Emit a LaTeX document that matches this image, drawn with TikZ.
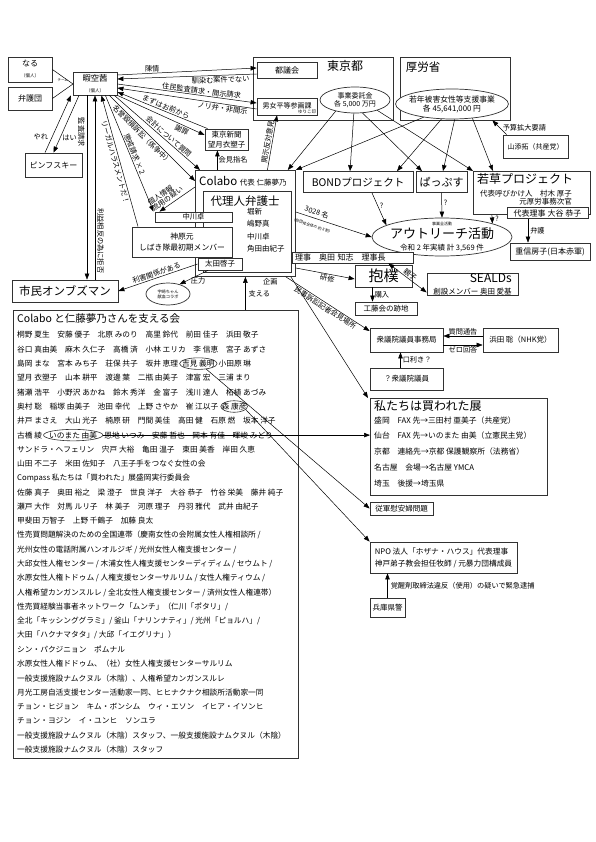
\documentclass[tikz,border=0pt]{standalone}
\usepackage{fontspec}
\setmainfont{Noto Sans CJK JP}
\usepackage{xcolor}
\usepackage{tikz}
\usetikzlibrary{arrows.meta, positioning, shapes.geometric}
\definecolor{FrameGray}{RGB}{50, 50, 50}
\newcommand{\fsz}[2]{\fontsize{#1}{#2}\selectfont}

\begin{document}
\begin{tikzpicture}[x=1pt, y=-1pt,
    box/.style={draw=FrameGray, line width=0.8pt, fill=white, inner sep=1pt, align=center},
    oval/.style={draw=FrameGray, line width=0.7pt, ellipse, fill=white, inner sep=0pt, align=center},
    namering/.style={draw=FrameGray, line width=0.6pt, ellipse, inner xsep=-3pt, inner ysep=0.5pt, font=\fsz{7.7}{9}},
    namerow/.style={anchor=west, inner sep=0pt, font=\fsz{7.7}{9}},
    arr/.style={-{Triangle[length=6pt, width=4.5pt]}, line width=0.5pt},
    rarr/.style={{Triangle[length=6pt, width=4.5pt]}-, line width=0.5pt},
    dblarr/.style={{Triangle[length=6pt, width=4.5pt]}-{Triangle[length=6pt, width=4.5pt]}, line width=0.5pt},
    lbl/.style={font=\fsz{7.2}{8}, inner sep=1pt}]
  \fill[white] (0,0) rectangle (595,842);
  \useasboundingbox (0,0) rectangle (595,842);

  % --- left top: persons
  \node[box, minimum width=44, minimum height=25] (naru) at (30,69.5) {\fsz{8}{8}なる\\[-1pt]\fsz{4.5}{5}（個人）};
  \node[box, minimum width=44, minimum height=23] (bengodan) at (30,98.5) {\fsz{8}{9}弁護団};
  \node[box, minimum width=44, minimum height=23] (himasora) at (95,83.5) {\fsz{8.3}{8.5}暇空茜\\[-1pt]\fsz{4.5}{5}（個人）};
  \node[box, minimum width=57, minimum height=24] (pinf) at (53.5,165) {\fsz{8}{9}ピンフスキー};
  \node[box, minimum width=106, minimum height=22, font=\fsz{11.5}{12}] (ombuds) at (65,291) {市民オンブズマン};

  % --- Tokyo / MHLW
  \node[box, minimum width=140, minimum height=63] (tokyo) at (323,88.5) {};
  \node[inner sep=0pt, font=\fsz{12}{13}] at (345,66) {東京都};
  \node[box, minimum width=60, minimum height=16, font=\fsz{8}{9}] (togikai) at (287,70) {都議会};
  \node[box, minimum width=60, minimum height=17, font=\fsz{7}{8}] (danjo) at (287,106.5) {\raisebox{2pt}{男女平等参画課}};
  \node[anchor=south east, inner sep=1pt, font=\fsz{4.5}{5}] at (danjo.south east) {ゆりこ印};
  \node[oval, minimum width=70, minimum height=26, font=\fsz{7}{8.5}] (tokyoell) at (355,100) {事業委託金\\各 5,000 万円};
  \node[box, minimum width=110, minimum height=63] (kourou) at (455,88.5) {};
  \node[inner sep=0pt, font=\fsz{11.5}{12}] at (423,67) {厚労省};
  \node[oval, minimum width=100, minimum height=30, inner xsep=-3pt, font=\fsz{7.8}{9}] (kourouell) at (452,104) {若年被害女性等支援事業\\各 45,641,000 円};
  \node[box, minimum width=65, minimum height=23, font=\fsz{7}{8}] (yamazoe) at (535.5,146.5) {山添拓（共産党）};
  \node[box, minimum width=43, minimum height=21, font=\fsz{7.5}{10}] (shinbun) at (226.5,139.5) {東京新聞\\望月衣塑子};

  % --- projects
  \node[box, minimum width=110, minimum height=21, font=\fsz{10.5}{11}] (bond) at (358,182) {BONDプロジェクト};
  \node[box, minimum width=51, minimum height=21, font=\fsz{11}{12}] (pappusu) at (441.5,182) {ぱっぷす};
  \node[box, minimum width=117, minimum height=43, anchor=north west] (wakakusa) at (473,171) {};
  \node[anchor=north west, inner sep=0pt, font=\fsz{12}{13}] at (477,173) {若草プロジェクト};
  \node[anchor=north west, inner sep=0pt, align=right, font=\fsz{7.5}{8.5}] at (480,189.5) {代表呼びかけ人　村木 厚子\\元厚労事務次官};
  \node[box, minimum width=81, minimum height=11, inner sep=0.5pt, font=\fsz{8}{8}] (ootani) at (547.5,213) {代表理事 大谷 恭子};
  \node[box, minimum width=80, minimum height=17, font=\fsz{8}{8}] (shigenobu) at (550,251.5) {重信房子(日本赤軍)};
  \node[oval, minimum width=140, minimum height=38, inner xsep=-14pt, inner ysep=-3pt] (outreach) at (442,237)
    {\fsz{4}{4.5}事業全活動\\[0.5pt]\fsz{13}{13}アウトリーチ活動\\\fsz{7.5}{9}令和 2 年実績 計 3,569 件};

  % --- Colabo
  \node[box, minimum width=100, minimum height=106, anchor=north west] (colabo) at (195,170) {};
  \node[anchor=west, inner sep=0pt] at (199,181) {\fsz{11.5}{12}Colabo \fsz{7.5}{8}代表 仁藤夢乃};
  \node[box, minimum width=88, minimum height=81, anchor=north west] (dairinin) at (203,191) {};
  \node[inner sep=0pt, font=\fsz{11.5}{12}] at (245,201) {代理人弁護士};
  \node[anchor=north west, inner sep=0pt, align=left, font=\fsz{7.5}{12.3}] at (247,208) {堀新\\嶋野真\\中川卓\\角田由紀子};
  \node[box, minimum width=77, minimum height=10, inner sep=0pt, font=\fsz{7.3}{8}] (nakagawa) at (193.5,217) {中川卓};
  \node[box, minimum width=100, minimum height=30, font=\fsz{7.8}{10.5}] (kanbara) at (182,242) {神原元\\しばき隊最初期メンバー};
  \node[box, minimum width=44, minimum height=12, inner sep=0pt, font=\fsz{7.5}{8}] (oota) at (220,264) {太田啓子};
  \node[oval, minimum width=44, minimum height=22, font=\fsz{4.2}{5}] (uzaki) at (168,294) {宇崎ちゃん\\献血コラボ};

  % --- right middle
  \node[box, text width=115, minimum height=11, inner ysep=0pt, inner xsep=3pt, align=left, font=\fsz{8}{8}] (riji) at (352.5,257.5) {理事　奥田 知志　理事長};
  \node[box, minimum width=57, minimum height=22, inner sep=0pt, font=\fsz{15}{15}] (houboku) at (383.5,276) {抱樸};
  \node[box, minimum width=62, minimum height=13, inner sep=0pt, font=\fsz{7.5}{8}] (kudo) at (386,308.5) {工藤会の跡地};
  \node[box, minimum width=91, minimum height=22, align=right, inner sep=0pt] (sealds) at (472.5,284) {\fsz{12}{12}SEALDs\\\fsz{7.5}{9}創設メンバー 奥田 愛基};
  \node[box, minimum width=73, minimum height=24, font=\fsz{7.5}{8}] (jimukyoku) at (406.5,340) {衆議院議員事務局};
  \node[box, minimum width=75, minimum height=24, font=\fsz{7.5}{8}] (hamada) at (520.5,340) {浜田 聡（NHK党）};
  \node[box, minimum width=73, minimum height=22, font=\fsz{7.5}{8}] (giin) at (406.5,379) {？衆議院議員};
  \node[box, minimum width=177, minimum height=97, anchor=north west] (kawareta) at (370,398) {};
  \node[anchor=north west, inner sep=0pt, align=left, font=\fsz{7.8}{15.7}] at (374,400)
    {{\fsz{12}{13}私たちは買われた展}\\[-2.7pt]
     盛岡　FAX 先→三田村 亜美子（共産党）\\
     仙台　FAX 先→いのまた 由美（立憲民主党）\\
     京都　連絡先→京都 保護観察所（法務省）\\
     名古屋　会場→名古屋 YMCA\\
     埼玉　後援→埼玉県};
  \node[box, minimum width=63, minimum height=13, inner sep=0pt, font=\fsz{7.5}{8}] (ianfu) at (401.5,508.5) {従軍慰安婦問題};
  \node[box, minimum width=147, minimum height=31, align=left, font=\fsz{7.7}{12}] (npo) at (443.5,557.5) {NPO 法人「ホザナ・ハウス」代表理事\\神戸弟子教会担任牧師 / 元暴力団構成員};
  \node[box, minimum width=35, minimum height=19, inner sep=0pt, font=\fsz{7.5}{8}] (hyogo) at (387.5,607.5) {兵庫県警};

  % --- supporters list
  \node[box, minimum width=285, minimum height=448, anchor=north west] (support) at (13,310) {};
  \node[anchor=west, inner sep=0pt, font=\fsz{10.5}{11}] at (17,319) {Colabo と仁藤夢乃さんを支える会};
  \foreach \r/\names in {
      1/{桐野 夏生　安藤 優子　北原 みのり　高里 鈴代　前田 佳子　浜田 敬子},
      2/{谷口 真由美　麻木 久仁子　高橋 済　小林 エリカ　李 信恵　宮子 あずさ},
      4/{望月 衣塑子　山本 耕平　渡邊 葉　二瓶 由美子　津富 宏　三浦 まり},
      5/{猪瀬 浩平　小野沢 あかね　鈴木 秀洋　金 富子　浅川 達人　柘植 あづみ},
      7/{井戸 まさえ　大山 光子　楠原 研　門間 美佳　高田 健　石原 燃　坂本 洋子},
      9/{サンドラ・ヘフェリン　宍戸 大裕　亀田 温子　東田 美香　岸田 久恵},
      10/{山田 不二子　米田 佐知子　八王子手をつなぐ女性の会},
      11/{Compass 私たちは「買われた」展盛岡実行委員会},
      12/{佐藤 真子　奥田 裕之　梁 澄子　世良 洋子　大谷 恭子　竹谷 栄美　藤井 純子},
      13/{瀬戸 大作　対馬 ルリ子　林 美子　河原 理子　丹羽 雅代　武井 由紀子},
      14/{甲斐田 万智子　上野 千鶴子　加藤 良太},
      15/{性売買問題解決のための全国連帯（慶南女性の会附属女性人権相談所 /},
      16/{光州女性の電話附属ハンオルジギ / 光州女性人権支援センター /},
      17/{大邱女性人権センター / 木浦女性人権支援センターディディム / セウムト /},
      18/{水原女性人権トドゥム / 人権支援センターサルリム / 女性人権ティウム /},
      19/{人権希望カンガンスルレ / 全北女性人権支援センター / 済州女性人権連帯）},
      20/{性売買経験当事者ネットワーク「ムンチ」（仁川「ポタリ」/},
      21/{全北「キッシンググラミ」/ 釜山「ナリンナティ」/ 光州「ピョルハ」/},
      22/{大田「ハクナマタタ」/ 大邱「イエグリナ」）},
      23/{シン・パクジニョン　ポムナル},
      24/{水原女性人権ドドゥム、（社）女性人権支援センターサルリム},
      25/{一般支援施設ナムクヌル（木陰）、人権希望カンガンスルレ},
      26/{月光工房自活支援センター活動家一同、ヒヒナクナク相談所活動家一同},
      27/{チョン・ヒジョン　キム・ボンシム　ウィ・エソン　イヒア・イソンヒ},
      28/{チョン・ヨジン　イ・ユンヒ　ソンユラ},
      29/{一般支援施設ナムクヌル（木陰）スタッフ、一般支援施設ナムクヌル（木陰）},
      30/{一般支援施設ナムクヌル（木陰）スタッフ}}
    \node[namerow] at (17,{335+(\r-1)*14.3}) {\names};
  % rows with circled names
  \node[namerow] (row3) at (17,363.6) {島岡 まな　宮本 みち子　荘保 共子　坂井 恵理};
  \node[namering, right=1pt of row3] (yoshimi) {吉見 義明};
  \node[namerow, right=1pt of yoshimi] {小田原 琳};
  \node[namerow] (row6) at (17,406.5) {奥村 聡　稲塚 由美子　池田 幸代　上野 さやか　崔 江以子};
  \node[namering, right=2pt of row6] (mori) {森 康彦};
  \node[namerow] (row8) at (17,435.1) {古橋 綾};
  \node[namering, right=1pt of row8] (inomata) {いのまた 由美};
  \node[namerow, right=1pt of inomata] {恩地 いつみ　安藤 哲也　岡本 有佳　暉峻 みどり};

  % --- connectors around himasora
  \coordinate (team) at (73,84);
  \draw[line width=0.5pt] (naru.east) -- (team) node[pos=0.5, below=1.5pt, inner sep=0pt, font=\fsz{3.5}{4}] {チーム} -- (bengodan.east);
  \draw[arr] ([xshift=-8.5]pinf.north) -- ([xshift=-24]himasora.south) node[pos=0.28, left=3pt, lbl] {やれ};
  \draw[arr] ([xshift=-16]himasora.south) -- (pinf.north) node[pos=0.74, right=1pt, lbl] {はい};
  \draw[arr] ([xshift=-8]himasora.south) -- ([xshift=-8]himasora.south |- ombuds.north)
    node[pos=0.2, sloped, below=1pt, lbl] {監査請求};
  \draw[rarr] (himasora.south) -- (himasora.south |- ombuds.north)
    node[pos=0.79, sloped, above=1pt, lbl] {利益相反の為に拒否};
  \draw[arr] (himasora.east |- 0,75) -- (togikai.west |- 0,68) node[pos=0.25, above, lbl] {陳情};
  \draw[rarr] (himasora.east |- 0,79) -- (togikai.west |- 0,74) node[pos=0.74, below, sloped, lbl] {馴染む案件でない};
  \draw[arr] (himasora.east |- 0,84) -- (danjo.west |- 0,103) node[pos=0.6, above, sloped, lbl] {住民監査請求・開示請求};
  \draw[rarr] (himasora.east |- 0,88) -- (danjo.west |- 0,109) node[pos=0.76, below, sloped, lbl] {ノリ弁・非開示};
  \draw[rarr] (himasora.east |- 0,92) -- ([xshift=3]shinbun.north west) node[pos=0.52, above, sloped, lbl] {まずはお前から};
  \draw[arr] (himasora.south east) -- (shinbun.west |- 0,135) node[pos=0.76, below, sloped, lbl] {謝罪};
  \draw[arr] ([xshift=-3]himasora.south east) -- ([xshift=5]colabo.north west) node[pos=0.6, above, sloped, lbl] {会計について質問};
  \draw[arr] ([xshift=-8]himasora.south east) -- (colabo.west |- 0,181) node[pos=0.42, below, sloped, lbl] {名誉毀損訴訟（係争中）};
  \draw[arr] ([xshift=-12]himasora.south east) -- ([xshift=-40]nakagawa.north) node[pos=0.52, above, sloped, lbl] {懲戒請求 × 2};
  \draw[rarr] ([xshift=-34]nakagawa.north) -- (colabo.west |- 0,187) node[pos=0.32, above=1.5pt, sloped, lbl, align=left] {個人情報\\[-1pt]流用の疑い};
  \draw[rarr] ([xshift=-16]himasora.south east) -- ([xshift=-44]kanbara.north) node[pos=0.5, below, sloped, lbl] {リーガルハラスメントだ！};
  \draw[rarr] (ombuds.east) -- (oota.west) node[pos=0.5, above, sloped, lbl] {利害関係がある};
  \draw[arr] ([xshift=-12]oota.south) -- (uzaki.40) node[pos=0.75, right=3pt, lbl] {圧力};

  % --- Colabo surroundings
  \draw[arr] ([xshift=-28]colabo.north) -- ([xshift=-28]colabo.north |- shinbun.south) node[midway, right, lbl] {会見指名};
  \draw[arr] ([xshift=22]colabo.north) -- ([xshift=-10]danjo.south) node[pos=0.5, sloped, above, lbl] {開示反対意見};
  \draw[arr] (colabo.south |- support.north) -- (colabo.south) node[midway, right=2pt, lbl] {支える};
  \foreach \ang/\tgt/\dx in {210/colabo.north east/-8, 265/bond.north/-8, 300/pappusu.north/-19.5, 335/wakakusa.north west/0}
    \draw[arr] (tokyoell.\ang) -- ([xshift=\dx]\tgt);
  \foreach \ang/\tgt/\dx in {205/colabo.north east/0, 235/bond.north/39, 280/pappusu.north/1.5, 325/wakakusa.north west/20}
    \draw[arr] (kourouell.\ang) -- ([xshift=\dx]\tgt);
  \draw[arr] ([xshift=4]yamazoe.north west) -- ([xshift=-18]kourou.south east) node[pos=0.5, right=2pt, lbl] {予算拡大要請};
  \draw[arr] (colabo.east |- 0,212) -- (outreach.west)
    node[pos=0.25, sloped, inner sep=0.5pt, align=center] {\fsz{7.2}{8}3028 名\\[1pt]\fsz{3.8}{4}（自団体全体の 約 8 割）};
  \draw[arr] ([xshift=14]bond.south) -- (outreach.168) node[pos=0.4, right=1pt, lbl] {?};
  \draw[arr] (pappusu.south) -- (outreach.north) node[pos=0.4, right=1pt, lbl] {?};
  \draw[arr] ([xshift=-40]wakakusa.south) -- (outreach.15) node[pos=0.5, right=2pt, lbl] {?};
  \draw[arr] ([xshift=-19.5]ootani.south) -- ([xshift=-22]shigenobu.north) node[midway, right=1pt, lbl] {弁護};
  \draw[arr] (colabo.east |- 0,268) -- (houboku.west |- 0,279) node[pos=0.55, below, sloped, lbl] {研修};
  \draw[dblarr] ([xshift=-25]riji.south east) -- ([yshift=3]sealds.south west) node[pos=0.5, above, sloped, lbl] {親子};
  \draw[arr] ([xshift=-11]houboku.south) -- ([xshift=-11]houboku.south |- kudo.north) node[midway, right=1pt, lbl] {購入};
  \draw[arr] ([xshift=-10]colabo.south east) -- (jimukyoku.west |- 0,331) node[pos=0.5, below, sloped, lbl] {民事訴訟記者会見場所};
  \draw[arr] ([xshift=-5]colabo.south east) -- ([xshift=-2]kawareta.north west) node[at start, anchor=north east, xshift=-12pt, lbl] {企画};
  \draw[rarr] (jimukyoku.east |- 0,336) -- (hamada.west |- 0,336) node[midway, above, lbl] {質問通告};
  \draw[arr] (jimukyoku.east |- 0,345) -- (hamada.west |- 0,345) node[midway, below, lbl] {ゼロ回答};
  \draw[arr] ([xshift=-6]giin.north) -- ([xshift=-6]jimukyoku.south) node[midway, right=1pt, lbl] {口利き？};
  \draw[arr] (hyogo.north) -- (hyogo.north |- npo.south) node[midway, right=2pt, lbl] {覚醒剤取締法違反（使用）の疑いで緊急逮捕};

  % --- from the supporters
  \draw[arr] (yoshimi.-35) -- (ianfu.west);
  \draw[arr] (mori.-15) -- (npo.north west);
  \draw[arr] (inomata.east) -- (inomata.east -| kawareta.west);
\end{tikzpicture}
\end{document}
